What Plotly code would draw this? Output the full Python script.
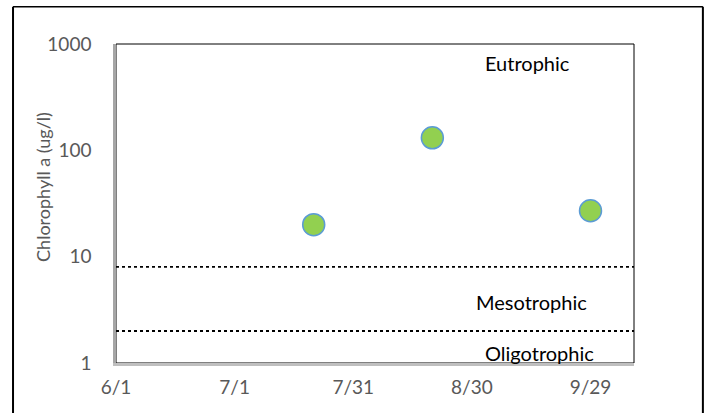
import math
import plotly.graph_objects as go

# Data
sample_dates = ["2017-07-21", "2017-08-20", "2017-09-29"]
chlorophyll = [20, 131, 27]
thresholds = [8, 2]
zone_labels = ["Eutrophic", "Mesotrophic", "Oligotrophic"]
zone_label_dates = ["2017-09-13", "2017-09-14", "2017-09-16"]
zone_label_values = [660, 3.75, 1.24]
x_ticks = ["2017-06-01", "2017-07-01", "2017-07-31", "2017-08-30", "2017-09-29"]
x_tick_text = ["6/1", "7/1", "7/31", "8/30", "9/29"]
y_ticks = [1, 10, 100, 1000]
y_tick_text = ["1", "10", "100", "1000"]

FONT = "Lato"
GRAY = "#595959"

fig = go.Figure()
fig.add_trace(go.Scatter(
    x=sample_dates, y=chlorophyll, mode="markers",
    marker=dict(size=22, color="#92D050", line=dict(color="#5B9BD5", width=1.5)),
    showlegend=False, hoverinfo="x+y",
))

shapes = []
# plot-area border (top/right visible black)
shapes.append(dict(type="rect", xref="paper", yref="paper", x0=0, x1=1, y0=0, y1=1,
                   line=dict(color="black", width=1), layer="below"))
# outer chart frame
FL, FR, FT, FB = -0.1988, 1.133, 1.117, -0.16
frame = dict(color="black", width=2)
shapes.append(dict(type="line", xref="paper", yref="paper", x0=FL, x1=FL, y0=FB, y1=FT,
                   line=frame, layer="above"))
shapes.append(dict(type="line", xref="paper", yref="paper", x0=FR, x1=FR, y0=FB, y1=FT,
                   line=frame, layer="above"))
shapes.append(dict(type="line", xref="paper", yref="paper", x0=FL, x1=FR, y0=FT, y1=FT,
                   line=dict(color="black", width=1.5), layer="above"))
for t in thresholds:
    shapes.append(dict(type="line", xref="paper", yref="y", x0=0, x1=1, y0=t, y1=t,
                       line=dict(color="black", width=1.8, dash="dot")))

annotations = []
for lab, d, v in zip(zone_labels, zone_label_dates, zone_label_values):
    annotations.append(dict(x=d, y=math.log10(v), xref="x", yref="y",
                            text=lab, showarrow=False,
                            font=dict(family=FONT, size=20, color="black")))
# cut-off chart title at the very top
annotations.append(dict(x=-0.2525, y=1.135, xref="paper", yref="paper",
                        xanchor="left", yanchor="bottom", showarrow=False,
                        text="Chlorophyll a", font=dict(family=FONT, size=24, color="black")))
# y axis title
annotations.append(dict(x=-0.166, y=0.552, xref="paper", yref="paper",
                        textangle=-90, showarrow=False,
                        text="Chlorophyll a (ug/l)", font=dict(family=FONT, size=18, color=GRAY)))

fig.update_layout(
    width=707, height=413,
    margin=dict(l=116, r=73, t=44, b=50),
    paper_bgcolor="white", plot_bgcolor="white",
    shapes=shapes, annotations=annotations,
    font=dict(family=FONT, color=GRAY),
    xaxis=dict(
        type="date", range=["2017-06-01", "2017-10-10"],
        tickvals=x_ticks, ticktext=x_tick_text,
        showgrid=False, zeroline=False, ticks="",
        showline=True, linecolor="#BFBFBF", linewidth=2.5,
        tickfont=dict(family=FONT, size=19, color=GRAY),
        ticklabelstandoff=5,
    ),
    yaxis=dict(
        type="log", range=[0, 3],
        tickvals=y_ticks, ticktext=y_tick_text,
        showgrid=False, zeroline=False, ticks="",
        showline=True, linecolor="#A6A6A6", linewidth=2.5,
        tickfont=dict(family=FONT, size=19, color=GRAY),
        ticklabelstandoff=18,
    ),
)

fig.write_html("out.html", config={"displayModeBar": False},
               post_script="document.body.style.margin='0';document.body.style.overflow='hidden';")
